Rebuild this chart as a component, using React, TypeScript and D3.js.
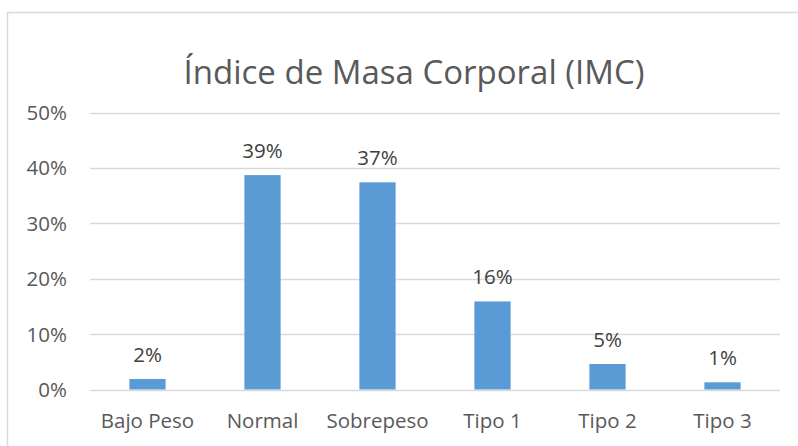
import React, { useEffect, useRef } from 'react'
import * as d3 from 'd3'

const categories = ['Bajo Peso', 'Normal', 'Sobrepeso', 'Tipo 1', 'Tipo 2', 'Tipo 3']
const values = [0.019, 0.387, 0.374, 0.159, 0.046, 0.013]
const yTicks = [0, 0.1, 0.2, 0.3, 0.4, 0.5]
const title = 'Índice de Masa Corporal (IMC)'

export default function App() {
  const svgRef = useRef<SVGSVGElement>(null)

  useEffect(() => {
    document.body.style.margin = '0'
    const w = 798
    const h = 446
    const font = '"Open Sans", sans-serif'
    const textColor = '#595959'
    const labelSize = 20.5

    const svg = d3.select(svgRef.current)
      .attr('width', w)
      .attr('height', h)
    svg.selectAll('*').remove()

    svg.append('rect')
      .attr('width', w).attr('height', h)
      .attr('fill', '#fff')

    // chart frame
    svg.append('rect')
      .attr('x', 7.5).attr('y', 12.5)
      .attr('width', 800).attr('height', 440)
      .attr('fill', 'none')
      .attr('stroke', '#d9d9d9')
      .attr('stroke-width', 1.5)

    const xScale = d3.scaleBand<string>()
      .domain(categories)
      .range([90, 780])
      .paddingInner(0.685)
      .paddingOuter(0.3425)
    const yScale = d3.scaleLinear()
      .domain([0, 0.5])
      .range([389.5, 112.5])

    // gridlines
    svg.append('g')
      .selectAll('line')
      .data(yTicks)
      .join('line')
      .attr('x1', 90).attr('x2', 780)
      .attr('y1', d => Math.round(yScale(d)) + 0.5)
      .attr('y2', d => Math.round(yScale(d)) + 0.5)
      .attr('stroke', '#d9d9d9')
      .attr('stroke-width', 1.5)

    // y tick labels
    svg.append('g')
      .selectAll('text')
      .data(yTicks)
      .join('text')
      .attr('x', 67)
      .attr('y', d => yScale(d) + 7.5)
      .attr('text-anchor', 'end')
      .attr('font-family', font)
      .attr('font-size', labelSize)
      .attr('fill', textColor)
      .text(d => d3.format('.0%')(d))

    // bars
    svg.append('g')
      .selectAll('rect')
      .data(values)
      .join('rect')
      .attr('x', (v, i) => xScale(categories[i]) as number)
      .attr('y', v => yScale(v))
      .attr('width', xScale.bandwidth())
      .attr('height', v => yScale(0) - yScale(v))
      .attr('fill', '#5b9bd5')

    // data labels
    svg.append('g')
      .selectAll('text')
      .data(values)
      .join('text')
      .attr('x', (v, i) => (xScale(categories[i]) as number) + xScale.bandwidth() / 2)
      .attr('y', v => yScale(v) - 17)
      .attr('text-anchor', 'middle')
      .attr('font-family', font)
      .attr('font-size', labelSize)
      .attr('fill', '#404040')
      .text(v => d3.format('.0%')(v))

    // category labels
    svg.append('g')
      .selectAll('text')
      .data(categories)
      .join('text')
      .attr('x', d => (xScale(d) as number) + xScale.bandwidth() / 2)
      .attr('y', 428)
      .attr('text-anchor', 'middle')
      .attr('font-family', font)
      .attr('font-size', labelSize)
      .attr('fill', textColor)
      .text(d => d)

    svg.append('text')
      .attr('x', 414)
      .attr('y', 84)
      .attr('text-anchor', 'middle')
      .attr('font-family', font)
      .attr('font-size', 33)
      .attr('fill', textColor)
      .text(title)
  }, [])

  return <svg ref={svgRef} style={{ display: 'block' }}></svg>
}
